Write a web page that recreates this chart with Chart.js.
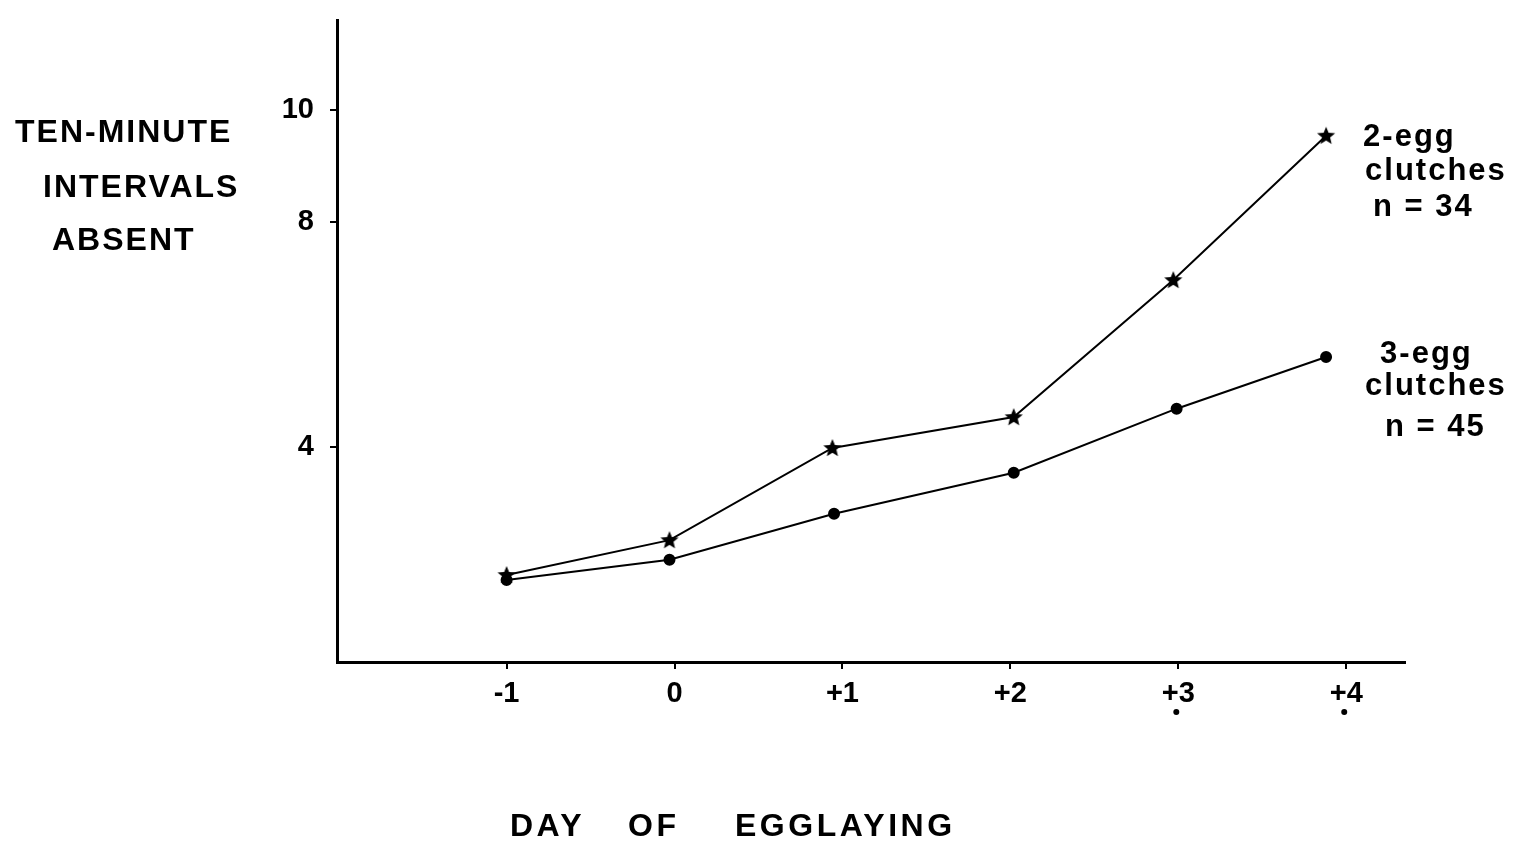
<!DOCTYPE html>
<html>
<head>
<meta charset="utf-8">
<script src="https://cdn.jsdelivr.net/npm/chart.js@4.4.1/dist/chart.umd.min.js"></script>
<style>
  html, body { margin: 0; padding: 0; background: #fff; }
  #wrap { width: 1533px; height: 847px; }
</style>
</head>
<body>
<div id="wrap"><canvas id="eggChart" width="1533" height="847"></canvas></div>
<script>
// values
const dayTicks = [-1, 0, 1, 2, 3, 4]
const twoEggDays = [-1, -0.03, 0.94, 2.02, 2.97, 3.88]
const twoEggValues = [1.72, 2.34, 3.98, 4.53, 6.97, 9.54]
const threeEggDays = [-1, -0.03, 0.95, 2.02, 2.99, 3.88]
const threeEggValues = [1.63, 1.99, 2.81, 3.54, 4.68, 5.60]
const yTicks = [4, 8, 10]
const significantDays = [3, 4]
const yTitle = ['TEN-MINUTE', 'INTERVALS', 'ABSENT']
const xTitle = ['DAY', 'OF', 'EGGLAYING']
const twoEggLabel = ['2-egg', 'clutches', 'n = 34']
const threeEggLabel = ['3-egg', 'clutches', 'n = 45']

const FONT = '"Liberation Sans", Arial, sans-serif'

// filled five-point star for the 2-egg series
const makeStar = () => {
    const c = document.createElement('canvas')
    c.width = 20
    c.height = 20
    const g = c.getContext('2d')
    g.fillStyle = '#000'
    g.beginPath()
    for (let i = 0; i < 10; i++) {
        const r = i % 2 === 0 ? 9.5 : 4.2
        const a = -Math.PI / 2 + i * Math.PI / 5
        g.lineTo(10 + r * Math.cos(a), 10.5 + r * Math.sin(a))
    }
    g.closePath()
    g.fill()
    return c
}

const textPlugin = {
    id: 'figureText',
    afterDraw(chart) {
        const ctx = chart.ctx
        const xs = chart.scales.x
        const ys = chart.scales.y
        ctx.save()
        ctx.fillStyle = '#000'
        ctx.textBaseline = 'alphabetic'
        ctx.textAlign = 'left'

        // y title, stacked
        ctx.font = 'bold 32px ' + FONT
        ctx.letterSpacing = '2px'
        ctx.fillText(yTitle[0], 15, 142)
        ctx.fillText(yTitle[1], 43, 197)
        ctx.fillText(yTitle[2], 52, 250)

        // x title
        ctx.letterSpacing = '3.5px'
        ctx.fillText(xTitle[0], 510, 836)
        ctx.fillText(xTitle[1], 628, 836)
        ctx.fillText(xTitle[2], 735, 836)

        // series labels next to the last point
        ctx.font = 'bold 31px ' + FONT
        ctx.letterSpacing = '2px'
        const p2 = chart.getDatasetMeta(0).data[twoEggValues.length - 1]
        ctx.fillText(twoEggLabel[0], p2.x + 37, p2.y + 10)
        ctx.fillText(twoEggLabel[1], p2.x + 39, p2.y + 44)
        ctx.fillText(twoEggLabel[2], p2.x + 47, p2.y + 80)
        const p3 = chart.getDatasetMeta(1).data[threeEggValues.length - 1]
        ctx.fillText(threeEggLabel[0], p3.x + 54, p3.y + 6)
        ctx.fillText(threeEggLabel[1], p3.x + 39, p3.y + 38)
        ctx.fillText(threeEggLabel[2], p3.x + 59, p3.y + 79)

        // significance dots under the day labels
        significantDays.forEach(d => {
            ctx.beginPath()
            ctx.arc(xs.getPixelForValue(d) - 2, ys.bottom + 50, 3, 0, Math.PI * 2)
            ctx.fill()
        })
        ctx.restore()
    }
}

const ctx = document.getElementById('eggChart').getContext('2d')
const star = makeStar()

new Chart(ctx, {
    type: 'line',
    data: {
        datasets: [
            {
                label: '2-egg clutches',
                data: twoEggDays.map((d, i) => ({ x: d, y: twoEggValues[i] })),
                borderColor: '#000',
                borderWidth: 2,
                pointStyle: star,
                pointRadius: 9,
                tension: 0,
            },
            {
                label: '3-egg clutches',
                data: threeEggDays.map((d, i) => ({ x: d, y: threeEggValues[i] })),
                borderColor: '#000',
                backgroundColor: '#000',
                borderWidth: 2,
                pointStyle: 'circle',
                pointRadius: 5,
                pointBackgroundColor: '#000',
                tension: 0,
            }
        ]
    },
    options: {
        responsive: false,
        animation: false,
        layout: { padding: { top: 20, right: 128, left: 0, bottom: 0 } },
        plugins: {
            legend: { display: false },
            tooltip: { enabled: false },
        },
        scales: {
            x: {
                type: 'linear',
                min: -2.01,
                max: 4.35,
                afterBuildTicks: scale => { scale.ticks = dayTicks.map(v => ({ value: v })) },
                afterFit: scale => {
                    scale.height = 185
                    scale.paddingLeft = 0
                    scale.paddingRight = 0
                },
                ticks: {
                    color: '#000',
                    font: { family: FONT, size: 29, weight: 'bold' },
                    padding: 8,
                    callback: v => (v > 0 ? '+' + v : String(v)),
                },
                grid: { drawOnChartArea: false, tickLength: 7, color: '#000', lineWidth: 2 },
                border: { color: '#000', width: 3 },
            },
            y: {
                type: 'linear',
                min: 0.17,
                max: 11.6,
                afterBuildTicks: scale => { scale.ticks = yTicks.map(v => ({ value: v })) },
                afterFit: scale => {
                    scale.width = 337
                    scale.paddingTop = 0
                    scale.paddingBottom = 0
                },
                ticks: {
                    color: '#000',
                    font: { family: FONT, size: 29, weight: 'bold' },
                    padding: 16,
                },
                grid: { drawOnChartArea: false, tickLength: 7, color: '#000', lineWidth: 2 },
                border: { color: '#000', width: 3 },
            }
        }
    },
    plugins: [textPlugin]
})
</script>
</body>
</html>
